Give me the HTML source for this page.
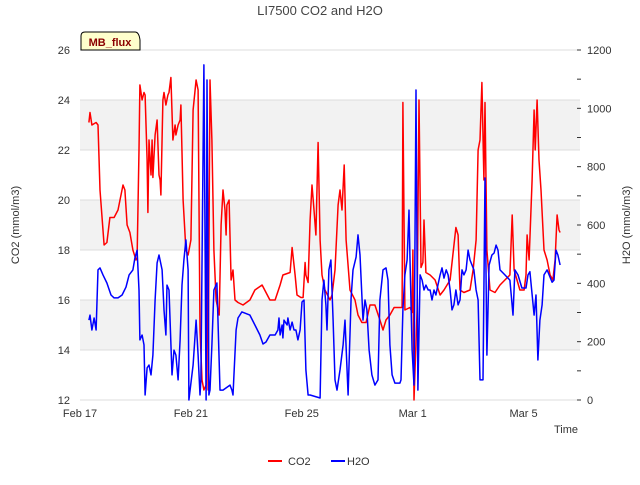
<!DOCTYPE html>
<html><head><meta charset="utf-8"><style>
body{margin:0;background:#fff;font-family:"Liberation Sans",sans-serif}
svg text{font-family:"Liberation Sans",sans-serif}
</style></head><body>
<svg id="chart" width="640" height="480">
<g id="bg"></g><g id="grid"></g><g id="axes"></g><g id="series"></g>
<text x="320" y="15" text-anchor="middle" font-size="13" fill="#444">LI7500 CO2 and H2O</text>
<text transform="translate(19,225) rotate(-90)" text-anchor="middle" font-size="11" fill="#333">CO2 (mmol/m3)</text>
<text transform="translate(630,225) rotate(-90)" text-anchor="middle" font-size="11" fill="#333">H2O (mmol/m3)</text>
<text x="578" y="433" text-anchor="end" font-size="11" fill="#333">Time</text>
<g>
<path d="M81,50 L81,36 Q81,32 85,32 L135,32 Q139,32 140,40 L140,50 Z" fill="#ffffcc" stroke="#000" stroke-width="1"/>
<text x="110" y="46" text-anchor="middle" font-size="11" font-weight="bold" fill="#8b0000">MB_flux</text></g>
<g>
<g><line x1="268" y1="461" x2="282" y2="461" stroke="#f00" stroke-width="2"/><text x="288" y="465" font-size="11" fill="#333">CO2</text></g>
<g><line x1="331" y1="461" x2="345" y2="461" stroke="#00f" stroke-width="2"/><text x="347" y="465" font-size="11" fill="#333">H2O</text></g>
</g>
</svg>
<script>
const xTickLabels=["Feb 17","Feb 21","Feb 25","Mar 1","Mar 5"];
const xTickDays=[0,4,8,12,16];
const leftTicks=[12,14,16,18,20,22,24,26];
const rightTicks=[0,200,400,600,800,1000,1200];
const co2Days=[0.32,0.36,0.43,0.58,0.65,0.72,0.87,0.97,1.08,1.23,1.37,1.48,1.55,1.62,1.70,1.80,1.91,2.02,2.06,2.13,2.16,2.24,2.31,2.35,2.42,2.45,2.49,2.56,2.60,2.63,2.71,2.78,2.85,2.89,2.92,2.99,3.03,3.10,3.17,3.21,3.28,3.35,3.43,3.46,3.54,3.61,3.64,3.72,3.82,3.90,4.00,4.08,4.19,4.26,4.33,4.40,4.47,4.55,4.58,4.62,4.69,4.76,4.83,4.91,5.02,5.09,5.16,5.23,5.27,5.30,5.38,5.45,5.52,5.59,5.70,5.88,6.13,6.31,6.57,6.85,7.04,7.22,7.32,7.58,7.61,7.65,7.76,7.83,7.97,8.05,8.12,8.15,8.23,8.30,8.37,8.44,8.51,8.59,8.66,8.73,8.84,9.02,9.09,9.20,9.31,9.38,9.45,9.53,9.60,9.74,9.92,10.03,10.17,10.32,10.46,10.64,10.82,10.93,11.04,11.18,11.33,11.54,11.62,11.65,11.72,11.90,11.98,12.01,12.05,12.16,12.23,12.30,12.37,12.41,12.48,12.63,12.81,12.99,13.13,13.35,13.56,13.64,13.71,13.85,14.07,14.18,14.29,14.36,14.43,14.50,14.57,14.61,14.68,14.79,14.97,15.15,15.33,15.51,15.59,15.66,15.87,16.02,16.09,16.13,16.20,16.31,16.38,16.42,16.49,16.56,16.63,16.74,16.85,16.96,17.06,17.14,17.21,17.28,17.32];
const co2Values=[23.1,23.5,23.0,23.1,23.0,20.4,18.2,18.3,19.3,19.3,19.6,20.2,20.6,20.4,19.0,18.7,18.0,17.6,17.7,22.0,24.6,24.0,24.3,24.2,21.6,19.5,22.4,21.0,22.4,20.9,22.6,23.2,21.0,20.8,20.2,24.0,24.3,23.8,24.2,24.3,24.9,22.4,23.0,22.6,23.0,23.2,23.8,20.0,18.0,17.8,18.4,23.6,24.8,24.4,14.8,12.8,12.4,12.6,20.0,12.4,24.8,22.4,18.0,16.0,15.4,19.0,20.4,19.6,18.6,19.8,20.0,16.8,17.2,16.0,15.9,15.8,16.0,16.4,16.6,16.0,16.0,16.6,17.0,17.1,17.5,18.1,17.0,16.2,16.1,16.1,17.5,17.0,16.7,19.2,20.6,19.6,18.6,22.3,18.4,17.0,16.4,16.0,16.2,17.2,19.8,20.4,19.6,21.4,18.4,16.4,16.0,15.4,15.1,15.1,15.8,15.8,15.2,14.8,15.2,15.4,15.7,15.7,15.7,23.9,15.6,15.7,15.5,18.0,12.0,15.6,24.0,17.3,17.5,19.2,17.1,17.0,16.8,16.2,16.4,16.8,18.9,18.6,16.4,16.3,16.4,17.2,18.4,22.0,22.4,24.7,20.8,23.9,18.0,16.4,16.3,16.6,16.8,17.0,19.4,17.2,16.4,16.4,17.0,18.6,17.6,20.8,23.6,22.0,24.0,21.6,20.4,18.0,17.6,17.0,16.8,17.6,19.4,18.8,18.7];
const h2oDays=[0.32,0.36,0.43,0.51,0.58,0.65,0.72,0.83,0.97,1.12,1.23,1.37,1.52,1.66,1.77,1.91,1.98,2.06,2.13,2.16,2.24,2.31,2.35,2.42,2.49,2.56,2.63,2.71,2.78,2.85,2.96,3.03,3.10,3.14,3.21,3.32,3.39,3.46,3.54,3.61,3.68,3.75,3.82,3.90,3.93,4.08,4.19,4.26,4.33,4.36,4.47,4.55,4.58,4.65,4.69,4.76,4.83,4.94,5.05,5.16,5.41,5.48,5.52,5.63,5.70,5.84,6.13,6.31,6.49,6.60,6.71,6.85,7.04,7.14,7.18,7.22,7.29,7.32,7.36,7.47,7.50,7.58,7.65,7.72,7.79,7.86,7.94,8.01,8.08,8.15,8.23,8.30,8.66,8.73,8.80,8.87,8.91,8.98,9.05,9.13,9.20,9.27,9.38,9.49,9.56,9.67,9.78,9.85,9.96,10.03,10.10,10.21,10.28,10.35,10.43,10.53,10.64,10.75,10.82,10.93,11.04,11.11,11.18,11.26,11.36,11.54,11.58,11.65,11.72,11.80,11.87,11.90,11.98,12.05,12.12,12.19,12.27,12.34,12.41,12.48,12.56,12.63,12.70,12.77,12.84,12.91,12.99,13.06,13.13,13.21,13.28,13.35,13.42,13.49,13.56,13.64,13.71,13.78,13.85,13.93,14.00,14.07,14.21,14.29,14.36,14.43,14.54,14.61,14.68,14.76,14.86,14.94,15.01,15.08,15.15,15.33,15.51,15.62,15.69,15.80,15.94,16.09,16.16,16.23,16.38,16.45,16.52,16.59,16.67,16.74,16.85,17.03,17.10,17.17,17.24,17.32];
const h2oValues=[274,291,240,281,240,446,453,429,401,360,350,350,360,387,429,446,487,514,377,206,223,189,17,110,120,86,154,343,470,497,446,309,223,394,377,86,171,154,69,206,394,480,549,446,0,120,274,154,17,69,1149,0,1097,17,34,189,377,401,34,34,51,34,17,240,281,302,291,257,223,192,199,223,223,240,281,223,257,213,274,257,281,240,267,240,240,206,240,336,343,103,17,17,7,343,411,326,240,446,480,274,69,34,103,189,274,17,350,446,490,566,497,274,343,309,171,86,51,69,343,446,453,411,189,86,58,58,69,309,429,480,651,497,171,51,1063,34,429,411,377,394,377,377,343,377,360,394,429,453,418,446,429,377,309,326,377,326,343,446,429,446,514,480,446,377,343,69,69,761,154,463,497,504,531,514,446,429,411,291,446,429,384,384,429,440,291,360,137,274,326,429,446,404,411,514,497,463,446];
const NS="http://www.w3.org/2000/svg";
const X0=80,X1=580,Y0=400,Y1=50;
const PXDAY=27.72;
function xs(d){return X0+d*PXDAY;}
function yl(v){return Y0-(v-12)/(26-12)*(Y0-Y1);}
function yr(v){return Y0-v/1200*(Y0-Y1);}
function mk(tag,attrs,parent){const e=document.createElementNS(NS,tag);for(const k in attrs)e.setAttribute(k,attrs[k]);parent.appendChild(e);return e;}
const bg=document.getElementById('bg'),grid=document.getElementById('grid'),axes=document.getElementById('axes'),ser=document.getElementById('series');
for(let i=0;i<leftTicks.length-1;i++){
  if(i%2===1){const r=mk('rect',{x:X0,y:yl(leftTicks[i+1]),width:X1-X0,height:yl(leftTicks[i])-yl(leftTicks[i+1]),fill:'#f2f2f2'},bg);
  
  }
}
leftTicks.forEach(v=>{
  const l=mk('line',{x1:X0,x2:X1,y1:yl(v),y2:yl(v),stroke:'#dcdcdc','stroke-width':1},grid);
  
  
  const t=mk('text',{x:X0-10,y:yl(v)+4,'text-anchor':'end','font-size':11,fill:'#333'},axes);t.textContent=v;
  
  
});
for(let v=0;v<=1200;v+=100){
  const l=mk('line',{x1:X1-3,x2:X1+1,y1:yr(v),y2:yr(v),stroke:'#333','stroke-width':1},axes);
  
  
}
rightTicks.forEach(v=>{
  const t=mk('text',{x:X1+7,y:yr(v)+4,'font-size':11,fill:'#333'},axes);t.textContent=v;
  
  
});
xTickDays.forEach((d,i)=>{
  const t=mk('text',{x:xs(d),y:417,'text-anchor':'middle','font-size':11,fill:'#333'},axes);t.textContent=xTickLabels[i];
  
  
});
function path(days,vals,yf){return days.map((d,i)=>(i?'L':'M')+xs(d).toFixed(1)+','+yf(vals[i]).toFixed(1)).join(' ');}
const pc=mk('path',{d:path(co2Days,co2Values,yl),fill:'none',stroke:'#ff0000','stroke-width':1.5,'stroke-linejoin':'round'},ser);


const ph=mk('path',{d:path(h2oDays,h2oValues,yr),fill:'none',stroke:'#0000ff','stroke-width':1.5,'stroke-linejoin':'round'},ser);


</script>
</body></html>
